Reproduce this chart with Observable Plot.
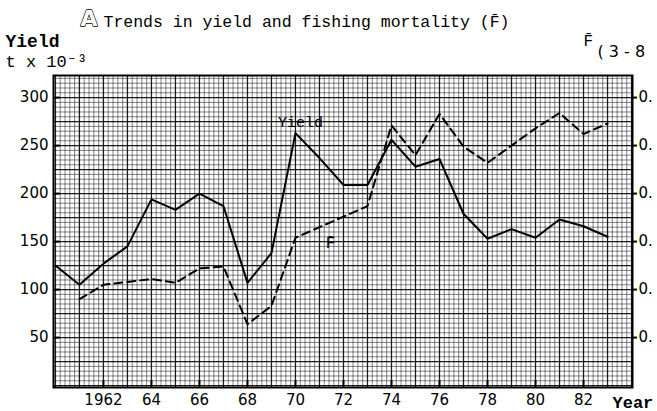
<!DOCTYPE html>
<html>
<head>
<meta charset="utf-8">
<script src="https://cdn.jsdelivr.net/npm/d3@7"></script>
<script src="https://cdn.jsdelivr.net/npm/@observablehq/plot@0.6"></script>
<style>
  html, body { margin: 0; padding: 0; background: white; }
</style>
</head>
<body>
<div id="chart"></div>
<script>
// ---- data ----
const yieldYears = [1960,1961,1962,1963,1964,1965,1966,1967,1968,1969,1970,1971,1972,1973,1974,1975,1976,1977,1978,1979,1980,1981,1982,1983];
const yieldValues = [125,105,127,145,194,183,200,187,107,138,263,237,209,209,256,228,236,179,153,163,154,173,166,155]; // t x 10^-3
const fYears = [1961,1962,1963,1964,1965,1966,1967,1968,1969,1970,1971,1972,1973,1974,1975,1976,1977,1978,1979,1980,1981,1982,1983];
const fValues = [0.180,0.210,0.216,0.222,0.214,0.244,0.248,0.128,0.166,0.308,0.330,0.352,0.374,0.542,0.480,0.566,0.498,0.464,0.500,0.536,0.568,0.524,0.546]; // F(3-8)
const yTicks = [50,100,150,200,250,300];
const xTicks = [1962,1964,1966,1968,1970,1972,1974,1976,1978,1980,1982];
const fPerYieldUnit = 1/500; // right axis relation

const yieldData = yieldYears.map((year, i) => ({year, value: yieldValues[i]}));
const fData = fYears.map((year, i) => ({year, f: fValues[i]}));

// graph-paper grid
const minorX = d3.range(0, 121).map(i => 1960 + i * 0.2);
const majorX = d3.range(1960, 1985);
const minorY = d3.range(0, 65).map(i => i * 5);
const majorY = d3.range(0, 325, 25);

const mono = "'Liberation Mono', 'DejaVu Sans Mono', monospace";
const sans = "'DejaVu Sans', sans-serif";

const peak = yieldData[yieldYears.indexOf(1970)];
const fLab = fData[fYears.indexOf(1971)];

const chart = Plot.plot({
  width: 657,
  height: 411,
  marginLeft: 53,
  marginRight: 25,
  marginTop: 75,
  marginBottom: 24,
  x: {domain: [1959.92, 1984.04]},
  y: {domain: [-2, 323]},
  style: {background: "white", fontFamily: sans, color: "black"},
  marks: [
    Plot.ruleX(minorX, {stroke: "#000", strokeWidth: 0.9, strokeOpacity: 0.55}),
    Plot.ruleY(minorY, {stroke: "#000", strokeWidth: 0.9, strokeOpacity: 0.55}),
    Plot.ruleX(majorX, {stroke: "#000", strokeWidth: 1.3, strokeOpacity: 0.8}),
    Plot.ruleY(majorY, {stroke: "#000", strokeWidth: 1.3, strokeOpacity: 0.8}),
    Plot.frame({stroke: "black", strokeWidth: 2}),
    Plot.axisY(yTicks, {anchor: "left", tickSize: -7, strokeWidth: 2, tickPadding: 12, fontSize: 15, label: null}),
    Plot.axisY(yTicks, {anchor: "right", tickSize: 4, strokeWidth: 2, tickPadding: 2, fontSize: 15, label: null, tickFormat: () => "0."}),
    Plot.axisX(xTicks, {anchor: "bottom", tickSize: -7, strokeWidth: 2, tickPadding: 14, fontSize: 15, label: null,
      tickFormat: d => d === 1962 ? "1962" : String(d).slice(2)}),
    Plot.line(yieldData, {x: "year", y: "value", stroke: "black", strokeWidth: 2}),
    Plot.line(fData, {x: "year", y: d => d.f / fPerYieldUnit, stroke: "black", strokeWidth: 2, strokeDasharray: "8,5"}),
    Plot.text([peak], {x: "year", y: "value", text: () => "Yield", dx: 5, dy: -11, fontFamily: mono, fontSize: 15, fill: "black"}),
    Plot.text([fLab], {x: "year", y: d => d.f / fPerYieldUnit, text: () => "F\u0304", dx: 11, dy: 16, fontFamily: mono, fontSize: 16, fill: "black"}),
    // titles and axis captions
    Plot.text(["A"], {frameAnchor: "top-left", dx: 27, dy: -50, lineAnchor: "bottom", text: d => d, fontFamily: sans, fontWeight: "bold", fontSize: 22, fill: "white", stroke: "black", strokeWidth: 1.3}),
    Plot.text(["Trends in yield and fishing mortality (F\u0304)"], {frameAnchor: "top-left", dx: 50, dy: -49, lineAnchor: "bottom", textAnchor: "start", text: d => d, fontFamily: mono, fontSize: 16.5, fill: "black"}),
    Plot.text(["Yield"], {frameAnchor: "top-left", dx: -48, dy: -29, lineAnchor: "bottom", textAnchor: "start", text: d => d, fontFamily: mono, fontWeight: "bold", fontSize: 18, fill: "black"}),
    Plot.text(["t x 10\u207B\u00B3"], {frameAnchor: "top-left", dx: -48, dy: -9, lineAnchor: "bottom", textAnchor: "start", text: d => d, fontFamily: mono, fontSize: 17, fill: "black"}),
    Plot.text(["F\u0304"], {frameAnchor: "top-right", dx: -49, dy: -30, lineAnchor: "bottom", textAnchor: "start", text: d => d, fontFamily: mono, fontSize: 16, fill: "black"}),
    Plot.text(["( 3 - 8"], {frameAnchor: "top-right", dx: -35, dy: -19, lineAnchor: "bottom", textAnchor: "start", text: d => d, fontFamily: sans, fontSize: 16, fill: "black"}),
    Plot.text(["Year"], {frameAnchor: "bottom-right", dx: -20, dy: 20, lineAnchor: "bottom", textAnchor: "start", text: d => d, fontFamily: mono, fontWeight: "bold", fontSize: 17, fill: "black"})
  ]
});
document.getElementById("chart").appendChild(chart);
</script>
</body>
</html>
